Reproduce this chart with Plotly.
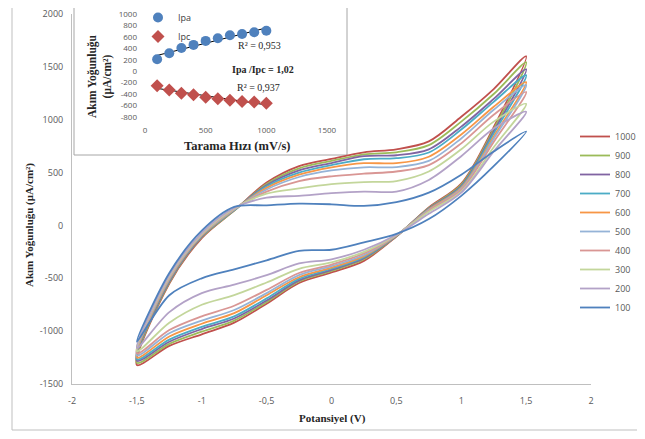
import numpy as np
import plotly.graph_objects as go

# ---------------- data: cyclic voltammograms ----------------
scan_rates = [1000, 900, 800, 700, 600, 500, 400, 300, 200, 100]
series_colors = ["#C0504D", "#9BBB59", "#8064A2", "#4BACC6", "#F79646",
                 "#95B3D7", "#D99694", "#C3D69B", "#B3A2C7", "#4F81BD"]

# potential path: forward scan -1.5 -> 1.5 V, then reverse 1.5 -> -1.5 V
potential = [-1.5, -1.25, -1.0, -0.75, -0.5, -0.25, 0.0, 0.25, 0.5, 0.75, 1.0, 1.25, 1.5,
             1.25, 1.0, 0.75, 0.5, 0.25, 0.0, -0.25, -0.5, -0.75, -1.0, -1.25, -1.5]

j_1000 = [-1320, -550, -120, 140, 405, 561, 630, 692, 720, 795, 1028, 1290, 1600,
          930, 395, 170, -105, -335, -445, -545, -740, -920, -1030, -1140, -1320]
j_900 = [-1300, -540, -110, 140, 392, 540, 610, 673, 692, 760, 982, 1243, 1543,
         910, 385, 165, -102, -320, -430, -530, -725, -900, -1005, -1120, -1300]
j_800 = [-1280, -530, -105, 145, 380, 520, 590, 655, 664, 720, 935, 1197, 1477,
         890, 375, 160, -100, -310, -420, -520, -710, -880, -980, -1100, -1280]
j_700 = [-1265, -520, -100, 145, 370, 500, 570, 626, 636, 690, 907, 1169, 1421,
         870, 365, 155, -98, -300, -410, -505, -690, -860, -960, -1080, -1265]
j_600 = [-1250, -510, -95, 150, 355, 480, 550, 589, 589, 650, 860, 1122, 1356,
         840, 355, 150, -96, -290, -400, -490, -660, -830, -930, -1050, -1250]
j_500 = [-1230, -500, -90, 150, 340, 458, 520, 550, 552, 610, 823, 1094, 1328,
         820, 345, 145, -94, -280, -385, -470, -640, -800, -900, -1020, -1230]
j_400 = [-1210, -490, -85, 155, 320, 420, 465, 490, 510, 570, 776, 1047, 1262,
         790, 335, 140, -92, -265, -370, -450, -610, -760, -860, -990, -1210]
j_300 = [-1190, -480, -80, 160, 300, 350, 390, 410, 420, 510, 720, 982, 1150,
         740, 320, 130, -90, -250, -350, -410, -540, -660, -750, -920, -1190]
j_200 = [-1160, -470, -70, 165, 262, 280, 305, 320, 320, 430, 655, 916, 1075,
         700, 310, 110, -88, -230, -320, -360, -470, -560, -640, -820, -1160]
j_100 = [-1100, -450, -50, 175, 190, 206, 200, 185, 220, 310, 480, 700, 888,
         560, 280, 60, -80, -160, -230, -240, -330, -415, -500, -660, -1100]
currents = [j_1000, j_900, j_800, j_700, j_600, j_500, j_400, j_300, j_200, j_100]

x_tick_vals = [-2, -1.5, -1, -0.5, 0, 0.5, 1, 1.5, 2]
x_tick_text = ["-2", "-1,5", "-1", "-0,5", "0", "0,5", "1", "1,5", "2"]
y_tick_vals = [-1500, -1000, -500, 0, 500, 1000, 1500, 2000]
y_tick_text = ["-1500", "-1000", "-500", "0", "500", "1000", "1500", "2000"]

# ---------------- data: inset (peak currents vs scan rate) ----------------
inset_rate = [100, 200, 300, 400, 500, 600, 700, 800, 900, 1000]
ipa = [210, 315, 405, 460, 530, 575, 630, 650, 680, 708]
ipc = [-252, -326, -384, -412, -453, -481, -509, -527, -538, -560]
inset_x_ticks = [0, 500, 1000, 1500]
inset_y_ticks = [-800, -600, -400, -200, 0, 200, 400, 600, 800, 1000]
inset_y_text = ["-800", "-600", "-400", "-200", "0", "200", "400", "600", "800", "1000"]

# ---------------- figure geometry ----------------
OFF = 8                      # page body margin in the browser
W, H = 645 - OFF, 439 - 2 * OFF
L, T = 72 - OFF, 14 - OFF    # plot area in figure pixels
R = W - (591 - OFF)
B = H - (384 - OFF)
pw, ph = W - L - R, H - T - B


def px_x(p):                 # target-image pixel -> paper x
    return (p - OFF - L) / pw


def px_y(p):                 # target-image pixel -> paper y
    return (H - B - (p - OFF)) / ph


fig = go.Figure()
for rate, color, cur in zip(scan_rates, series_colors, currents):
    fig.add_trace(go.Scatter(
        x=potential, y=cur, mode="lines", name=str(rate),
        line=dict(color=color, width=1.8, shape="spline", smoothing=0.9),
        legend="legend", hoverinfo="skip"))

# inset traces
fit_a = np.polyfit(inset_rate, ipa, 1)
fit_c = np.polyfit(inset_rate, ipc, 1)
fit_x = [inset_rate[0], inset_rate[-1]]
fig.add_trace(go.Scatter(x=fit_x, y=np.polyval(fit_a, fit_x), mode="lines",
                         line=dict(color="black", width=1), showlegend=False,
                         xaxis="x2", yaxis="y2"))
fig.add_trace(go.Scatter(x=fit_x, y=np.polyval(fit_c, fit_x), mode="lines",
                         line=dict(color="black", width=1), showlegend=False,
                         xaxis="x2", yaxis="y2"))
fig.add_trace(go.Scatter(x=inset_rate, y=ipa, mode="markers", name="Ipa",
                         marker=dict(symbol="circle", size=10, color="#4F81BD"),
                         xaxis="x2", yaxis="y2", legend="legend2"))
fig.add_trace(go.Scatter(x=inset_rate, y=ipc, mode="markers", name="Ipc",
                         marker=dict(symbol="diamond", size=10, color="#C0504D"),
                         xaxis="x2", yaxis="y2", legend="legend2"))

tick_font = dict(family="Open Sans, Liberation Sans, sans-serif", size=9, color="#595959")
inset_tick_font = dict(family="Open Sans, Liberation Sans, sans-serif", size=8,
                       color="#595959")
serif = "Liberation Serif, serif"

fig.update_layout(
    width=W, height=H,
    margin=dict(l=L, r=R, t=T, b=B, autoexpand=False),
    paper_bgcolor="white", plot_bgcolor="white",
    xaxis=dict(range=[-2, 2], tickvals=x_tick_vals, ticktext=x_tick_text,
               showline=True, linecolor="#BFBFBF", linewidth=1, showgrid=False,
               zeroline=False, ticks="", tickfont=tick_font, ticklabelstandoff=8),
    yaxis=dict(range=[-1500, 2000], tickvals=y_tick_vals, ticktext=y_tick_text,
               showline=True, linecolor="#BFBFBF", linewidth=1, showgrid=False,
               zeroline=False, ticks="", tickfont=tick_font, ticklabelstandoff=6,
               ticklabeloverflow="allow"),
    xaxis2=dict(domain=[px_x(145), px_x(327)], range=[0, 1500], anchor="y2",
                tickvals=inset_x_ticks, showline=False, showgrid=False, zeroline=False,
                ticks="", tickfont=inset_tick_font, ticklabelstandoff=7),
    yaxis2=dict(domain=[px_y(117), min(1.0, px_y(14))], range=[-800, 1000], anchor="x2",
                tickvals=inset_y_ticks, ticktext=inset_y_text, showline=False,
                showgrid=False, zeroline=False, ticks="", tickfont=inset_tick_font,
                ticklabelstandoff=7, ticklabeloverflow="allow"),
    legend=dict(x=px_x(575), y=px_y(122), xanchor="left", yanchor="top",
                font=dict(family="Open Sans, Liberation Sans, sans-serif", size=9,
                          color="#595959"),
                itemwidth=30, bgcolor="rgba(0,0,0,0)", tracegroupgap=0),
    legend2=dict(x=px_x(138), y=px_y(3), xanchor="left", yanchor="top",
                 font=dict(family="Open Sans, Liberation Sans, sans-serif", size=9,
                           color="#404040"),
                 itemwidth=30, bgcolor="rgba(0,0,0,0)"),
    showlegend=True,
    shapes=[
        # outer chart border
        dict(type="rect", xref="paper", yref="paper", x0=px_x(12), x1=px_x(670),
             y0=px_y(430), y1=px_y(-20), line=dict(color="#BFBFBF", width=1),
             layer="below"),
        # inset frame
        dict(type="rect", xref="paper", yref="paper", x0=px_x(74), x1=px_x(347),
             y0=px_y(155), y1=px_y(3), line=dict(color="#A6A6A6", width=1),
             fillcolor="white", layer="below"),
    ],
    annotations=[
        dict(text="<b>Akım Yoğunluğu (μA/cm²)</b>", xref="paper", yref="paper",
             x=px_x(30), y=px_y(225), textangle=-90, showarrow=False,
             font=dict(family=serif, size=11, color="#262626"),
             xanchor="center", yanchor="middle"),
        dict(text="<b>Potansiyel (V)</b>", xref="paper", yref="paper",
             x=px_x(332), y=px_y(419), showarrow=False,
             font=dict(family=serif, size=11, color="#262626"),
             xanchor="center", yanchor="middle"),
        dict(text="<b>Tarama Hızı (mV/s)</b>", xref="paper", yref="paper",
             x=px_x(237), y=px_y(146), showarrow=False,
             font=dict(family=serif, size=12.5, color="#262626"),
             xanchor="center", yanchor="middle"),
        dict(text="<b>Akım Yoğunluğu<br>(μA/cm²)</b>", xref="paper", yref="paper",
             x=px_x(100), y=px_y(76), textangle=-90, showarrow=False,
             font=dict(family=serif, size=11.5, color="#262626"),
             xanchor="center", yanchor="middle"),
        dict(text="R² = 0,953", xref="paper", yref="paper",
             x=px_x(259), y=px_y(45), showarrow=False,
             font=dict(family=serif, size=10, color="#262626"),
             xanchor="center", yanchor="middle"),
        dict(text="<b>Ipa /Ipc = 1,02</b>", xref="paper", yref="paper",
             x=px_x(263), y=px_y(69), showarrow=False,
             font=dict(family=serif, size=10, color="#262626"),
             xanchor="center", yanchor="middle"),
        dict(text="R² = 0,937", xref="paper", yref="paper",
             x=px_x(258), y=px_y(88), showarrow=False,
             font=dict(family=serif, size=10, color="#262626"),
             xanchor="center", yanchor="middle"),
    ],
)

fig.write_html("out.html")
